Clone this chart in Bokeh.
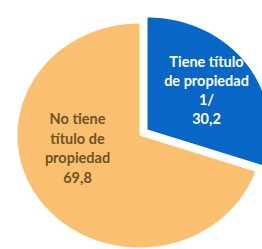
import math
from bokeh.plotting import figure
from bokeh.models import ColumnDataSource, Range1d
from bokeh.core.properties import value
from bokeh.embed import file_html
from bokeh.resources import INLINE

categories = ["Tiene título\nde propiedad\n1/", "No tiene\ntítulo de\npropiedad"]
values = [30.2, 69.8]
value_labels = ["30,2", "69,8"]
colors = ["#0866c6", "#fbbf70"]
text_colors = ["#ffffff", "#6f5226"]

W, H = 262, 249
p = figure(width=W, height=H, output_backend="svg", toolbar_location=None,
           x_range=Range1d(0, W), y_range=Range1d(0, H), min_border=0)
p.axis.visible = False
p.grid.visible = False
p.outline_line_color = None
p.background_fill_color = "white"

# pie geometry (screen-like units, slightly wider than tall as in the source)
cx, cy, rx, ry = 139, H - 135, 122, 112
explode = [(8, 6), (0, 0)]
label_pos = [(206, H - 89.5), (77, H - 147.5)]
line_heights = [1.1, 1.17]

total = sum(values)
start = math.pi / 2
pxs, pys = [], []
for v, (ex, ey) in zip(values, explode):
    sweep = 2 * math.pi * v / total
    end = start - sweep
    ox, oy = cx + ex, cy + ey
    n = max(int(abs(sweep) * 60), 8)
    xs = [ox]
    ys = [oy]
    for i in range(n + 1):
        t = start - sweep * i / n
        xs.append(ox + rx * math.cos(t))
        ys.append(oy + ry * math.sin(t))
    pxs.append(xs)
    pys.append(ys)
    start = end

src = ColumnDataSource(dict(xs=pxs, ys=pys, color=colors))
p.patches(xs="xs", ys="ys", fill_color="color", line_color=None, source=src)

for cat, val, (lx, ly), tc, lh in zip(categories, value_labels, label_pos,
                                       text_colors, line_heights):
    p.text(x=[lx], y=[ly], text=[cat + "\n" + val], text_color=tc,
           text_font=value("Lato"), text_font_style="bold",
           text_font_size="14.5px", text_align="center",
           text_baseline="middle", text_line_height=lh)

open("out.html", "w").write(file_html(p, INLINE))
